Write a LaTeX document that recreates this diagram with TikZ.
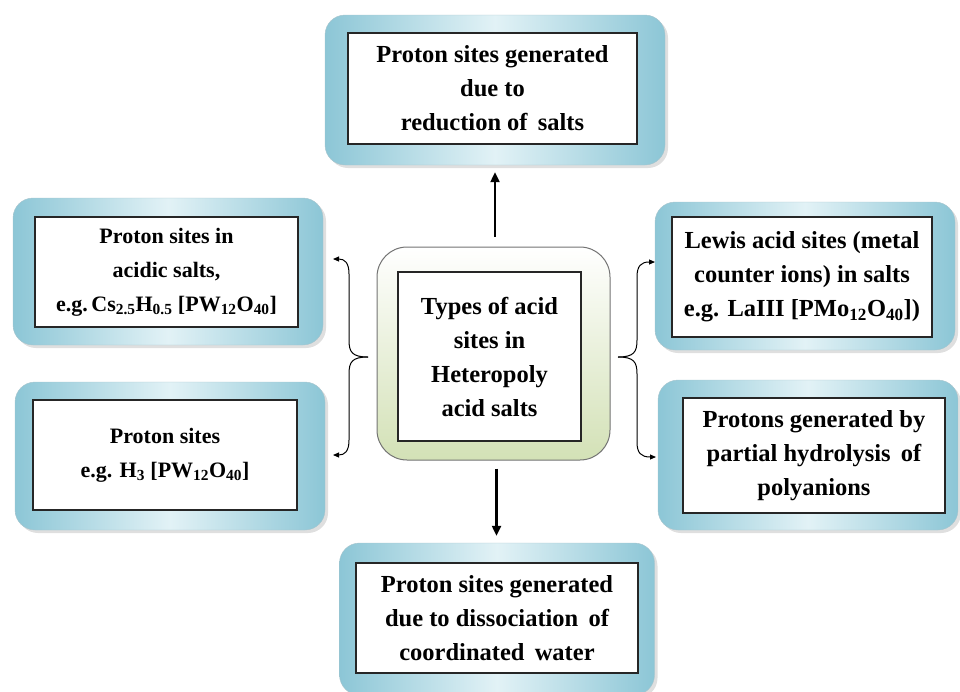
\documentclass[tikz,border=0pt]{standalone}
\usepackage{fontspec}
\setmainfont{Liberation Serif}
\usetikzlibrary{arrows.meta,shadows}
\definecolor{boxblue}{HTML}{8CC6D6}
\definecolor{boxlight}{HTML}{E2F2F6}
\definecolor{greenbot}{HTML}{D3E1B6}
\tikzset{
  outerbox/.style={rounded corners=20pt, left color=boxblue, right color=boxblue, middle color=boxlight,
    draw=boxblue!80!black!60, line width=0.4pt, inner sep=0pt,
    drop shadow={shadow xshift=3pt, shadow yshift=-3pt, opacity=0.25}},
  innerbox/.style={draw=black!85, line width=1.2pt, fill=white, align=center, inner sep=2pt,
    font=\fontsize{24.5}{34}\selectfont\bfseries},
  smalltext/.style={font=\fontsize{22}{34}\selectfont\bfseries},
  centerbox/.style={rounded corners=30pt, top color=white, bottom color=greenbot, draw=black!55, line width=1pt, inner sep=0pt},
  bigarrow/.style={line width=2.2pt, -{Triangle[length=10pt,width=9pt]}},
  bracearrow/.style={line width=1pt, -{Triangle[length=6pt,width=5pt]}}
}
\begin{document}
\begin{tikzpicture}[x=1pt,y=-1pt]
\useasboundingbox (0,0) rectangle (960,691);
% outer boxes
\node[outerbox, minimum width=340pt, minimum height=150pt] (tO) at (495,90) {};
\node[outerbox, minimum width=310pt, minimum height=147pt] (ltO) at (168,271.5) {};
\node[outerbox, minimum width=310pt, minimum height=148pt] (lbO) at (170,456) {};
\node[outerbox, minimum width=300pt, minimum height=148pt] (rtO) at (805,276) {};
\node[outerbox, minimum width=300pt, minimum height=150pt] (rbO) at (808,455) {};
\node[outerbox, minimum width=315pt, minimum height=152pt] (bO) at (497,619) {};
\node[centerbox, minimum width=233pt, minimum height=213pt] (cO) at (493.5,353.5) {};
% inner boxes
\node[innerbox, minimum width=289pt, minimum height=111pt] (t) at (492.5,88.5)
  {Proton sites generated\\due to\\reduction of\, salts};
\node[innerbox, smalltext, minimum width=263pt, minimum height=110pt] (lt) at (166.5,272)
  {Proton sites in\\acidic salts,\\e.g.\,Cs\textsubscript{2.5}H\textsubscript{0.5} [PW\textsubscript{12}O\textsubscript{40}]};
\node[innerbox, smalltext, minimum width=264pt, minimum height=110pt] (lb) at (165,455)
  {Proton sites\\e.g. H\textsubscript{3} [PW\textsubscript{12}O\textsubscript{40}]};
\node[innerbox, minimum width=183pt, minimum height=169pt] (c) at (489.5,356.5)
  {Types of acid\\sites in\\Heteropoly\\acid salts};
\node[innerbox, minimum width=260pt, minimum height=120pt] (rt) at (802,277)
  {Lewis acid sites (metal\\counter ions) in salts\\e.g. LaIII [PMo\textsubscript{12}O\textsubscript{40}])};
\node[innerbox, minimum width=262pt, minimum height=115pt] (rb) at (814,455.5)
  {Protons generated by\\partial hydrolysis\, of\\polyanions};
\node[innerbox, minimum width=282pt, minimum height=110pt] (b) at (497,618)
  {Proton sites generated\\due to dissociation\, of\\coordinated\, water};
% main arrows
\draw[bigarrow] ([xshift=1.5pt,yshift=10pt]cO.north) -- ([yshift=-7pt]tO.south);
\draw[bigarrow] ([xshift=3pt,yshift=-8pt]cO.south) -- ([xshift=-0.5pt,yshift=7pt]bO.north);
% braces
\coordinate (lm) at (368,357);
\coordinate (lte) at (333,259);
\coordinate (lbe) at (333,455);
\coordinate (rm) at (618,357);
\coordinate (rte) at (655,262);
\coordinate (rbe) at (656,457);
\draw[bracearrow] (lm) .. controls (352,357) and (349,352) .. (349,340) -- (349,274)
  .. controls (349,263) and (345,259) .. (lte);
\draw[bracearrow] (lm) .. controls (352,357) and (349,362) .. (349,374) -- (349,440)
  .. controls (349,451) and (345,455) .. (lbe);
\draw[bracearrow] (rm) .. controls (634,357) and (637,352) .. (637,340) -- (637,277)
  .. controls (637,266) and (641,262) .. (rte);
\draw[bracearrow] (rm) .. controls (634,357) and (637,362) .. (637,374) -- (637,442)
  .. controls (637,453) and (641,457) .. (rbe);
\end{tikzpicture}
\end{document}
